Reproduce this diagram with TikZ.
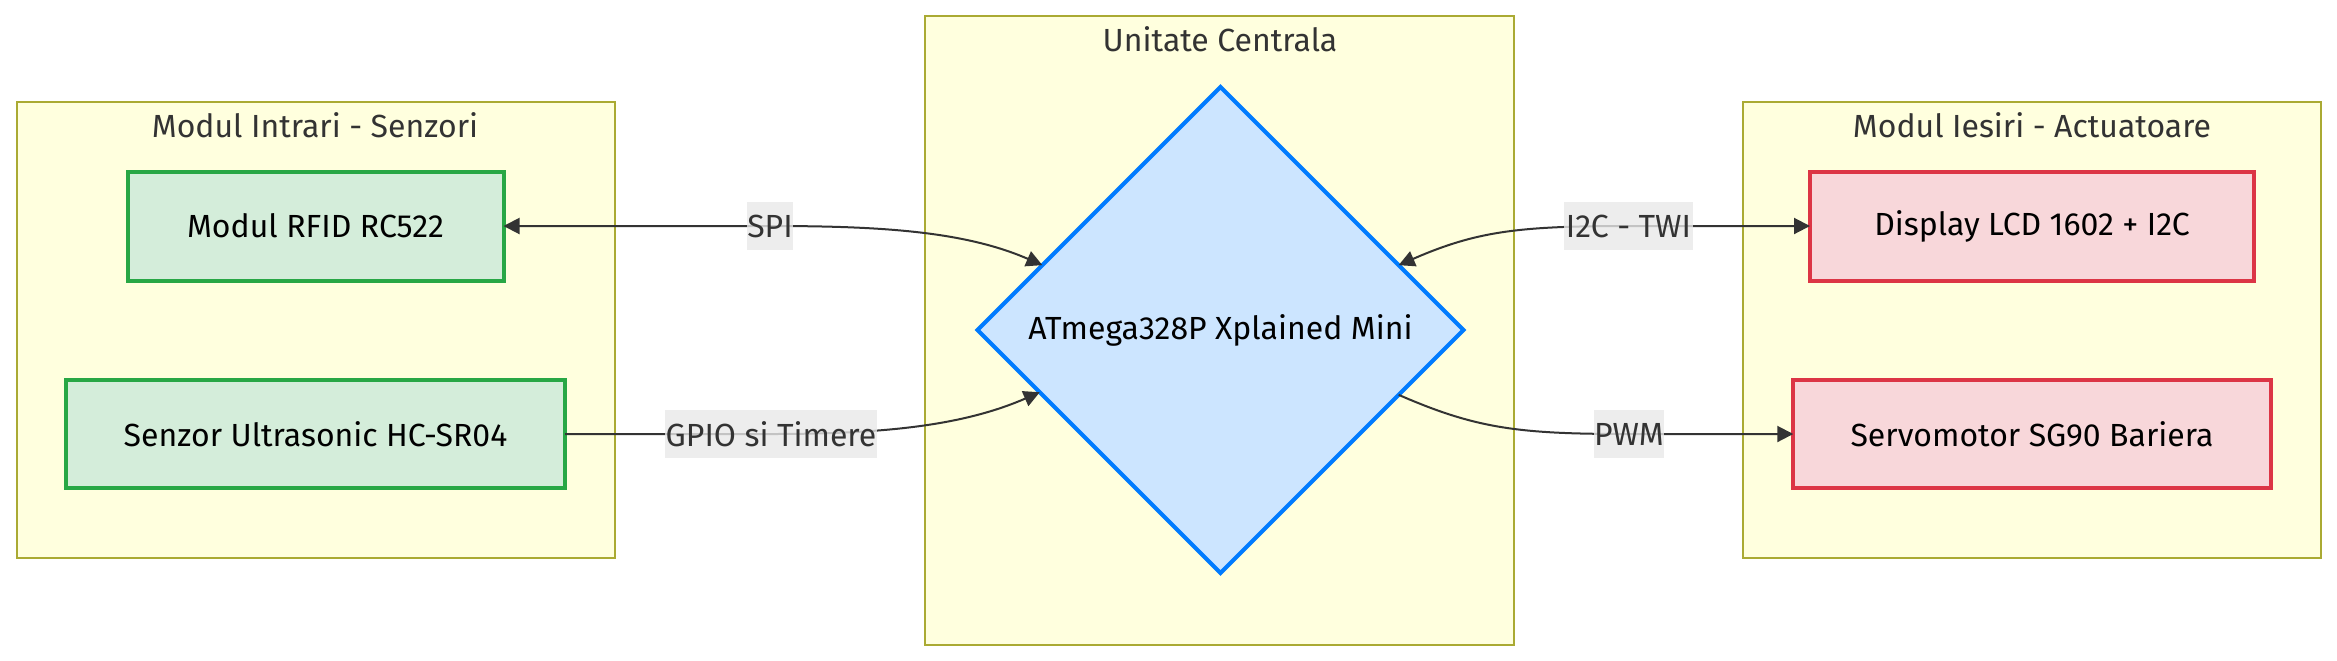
\documentclass[tikz,border=0pt]{standalone}
\usepackage{fontspec}
\setmainfont{Fira Sans}
\usetikzlibrary{arrows.meta}
\usetikzlibrary{shapes.geometric, positioning, calc}

\definecolor{clusterfill}{HTML}{FFFFDE}
\definecolor{clusterline}{HTML}{AAAA33}
\definecolor{greenfill}{HTML}{D4EDDA}
\definecolor{greenline}{HTML}{28A745}
\definecolor{redfill}{HTML}{F8D7DA}
\definecolor{redline}{HTML}{DC3545}
\definecolor{bluefill}{HTML}{CCE5FF}
\definecolor{blueline}{HTML}{007BFF}
\definecolor{edgecol}{HTML}{333333}
\definecolor{labelfill}{HTML}{E8E8E8}

\tikzset{
  cluster/.style={rectangle, fill=clusterfill, draw=clusterline, line width=1pt, inner sep=0pt, outer sep=0pt},
  clustertitle/.style={text=edgecol, inner sep=0pt},
  sensor/.style={rectangle, fill=greenfill, draw=greenline, line width=2pt, inner sep=0pt, outer sep=0pt, text=black},
  actuator/.style={rectangle, fill=redfill, draw=redline, line width=2pt, inner sep=0pt, outer sep=0pt, text=black},
  cpubox/.style={diamond, aspect=1, fill=bluefill, draw=blueline, line width=2pt, inner sep=0pt, outer sep=0pt, text=black},
  link/.style={draw=edgecol, line width=1pt, -{Triangle[length=8pt,width=8pt]}, fill=none},
  bothlink/.style={link, {Triangle[length=8pt,width=8pt]}-{Triangle[length=8pt,width=8pt]}},
  buslabel/.style={fill=labelfill, fill opacity=0.8, text opacity=1, text=edgecol, inner sep=0pt, minimum height=24pt}
}

\begin{document}
\begin{tikzpicture}[x=0.5pt, y=-0.5pt, font=\fontsize{16pt}{19pt}\selectfont]
        \useasboundingbox (0, 0) rectangle (2337, 660);

        % clusters
        \node[cluster, minimum width=299pt, minimum height=228pt] (intrari) at (315.5, 330) {};
        \node[cluster, minimum width=294.5pt, minimum height=314.5pt] (central) at (1219.5, 330.5) {};
        \node[cluster, minimum width=289pt, minimum height=228pt] (iesiri) at (2032, 330) {};
        \node[clustertitle] (intrarititle) at (315, 125) {Modul Intrari - Senzori};
        \node[clustertitle] (centraltitle) at (1220, 39) {Unitate Centrala};
        \node[clustertitle] (iesirititle) at (2032, 125) {Modul Iesiri - Actuatoare};

        % boxes
        \node[sensor, minimum width=188pt, minimum height=54.5pt] (rfid) at (315.5, 226) {Modul RFID RC522};
        \node[sensor, minimum width=249.5pt, minimum height=54pt] (ultra) at (315.5, 434) {Senzor Ultrasonic HC-SR04};
        \node[cpubox, minimum width=243pt, minimum height=243pt] (cpu) at (1220.5, 330) {ATmega328P Xplained Mini};
        \node[actuator, minimum width=222pt, minimum height=54.5pt] (lcd) at (2032, 226) {Display LCD 1602 + I2C};
        \node[actuator, minimum width=238.75pt, minimum height=54pt] (servo) at (2032, 434) {Servomotor SG90 Bariera};

        % edge labels
        \coordinate (spipos) at (770, 226);
        \coordinate (gpiopos) at (771, 434);
        \coordinate (twipos) at (1628.5, 226);
        \coordinate (pwmpos) at (1629, 434);

        \draw[bothlink] (rfid.east) -- (spipos) .. controls +(110, 0) and +(-78, -34) .. (cpu.160.5);
        \draw[link] (ultra.east) -- (gpiopos) .. controls +(110, 0) and +(-78, 34) .. (cpu.199.5);
        \draw[bothlink] (cpu.20) .. controls +(78, -34) and +(-110, 0) .. (twipos) -- (lcd.west);
        \draw[link] (cpu.340.5) .. controls +(78, 34) and +(-110, 0) .. (pwmpos) -- (servo.west);

        \node[buslabel, minimum width=21pt] (spi) at (spipos) {SPI};
        \node[buslabel, minimum width=106pt] (gpio) at (gpiopos) {GPIO si Timere};
        \node[buslabel, minimum width=64.5pt] (twi) at (twipos) {I2C - TWI};
        \node[buslabel, minimum width=34pt] (pwm) at (pwmpos) {PWM};
      \end{tikzpicture}
\end{document}
